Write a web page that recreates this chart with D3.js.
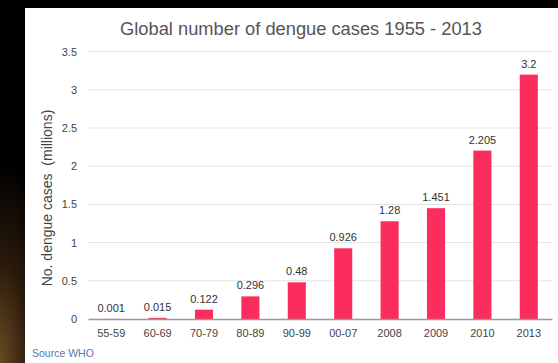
<!DOCTYPE html>
<html><head><meta charset="utf-8">
<script src="https://cdn.jsdelivr.net/npm/d3@7"></script>
<style>html,body{margin:0;padding:0;background:#000;overflow:hidden}</style>
</head><body>
<svg id="c" width="558" height="363"></svg>
<script>
const categories = ["55-59","60-69","70-79","80-89","90-99","00-07","2008","2009","2010","2013"];
const cases = [0.001,0.015,0.122,0.296,0.48,0.926,1.28,1.451,2.205,3.2];
const valueLabels = ["0.001","0.015","0.122","0.296","0.48","0.926","1.28","1.451","2.205","3.2"];
const yTicks = [0,0.5,1,1.5,2,2.5,3,3.5];
const yTickLabels = ["0","0.5","1","1.5","2","2.5","3","3.5"];
const title = "Global number of dengue cases 1955 - 2013";
const yTitle = "No. dengue cases  (millions)";
const source = "Source WHO";

const svg = d3.select("#c");
const defs = svg.append("defs");
const g1 = defs.append("radialGradient").attr("id","glow").attr("cx","0").attr("cy","1").attr("r","1");
g1.append("stop").attr("offset","0").attr("stop-color","#6b4a22");
g1.append("stop").attr("offset","0.5").attr("stop-color","#2a1a0c");
g1.append("stop").attr("offset","1").attr("stop-color","#000");
svg.append("rect").attr("width",558).attr("height",363).attr("fill","#000");
svg.append("rect").attr("x",0).attr("y",160).attr("width",60).attr("height",203).attr("fill","url(#glow)");
svg.append("rect").attr("x",25).attr("y",8).attr("width",533).attr("height",355).attr("fill","#fff");

const m = {left:88, right:552, top:51.7, bottom:319};
const x = d3.scaleBand().domain(categories).range([m.left,m.right]).paddingInner(0.61).paddingOuter(0.305);
const y = d3.scaleLinear().domain([0,3.5]).range([m.bottom,m.top]);

// gridlines
svg.append("g").selectAll("line").data(yTicks.filter(t=>t>0)).join("line")
  .attr("x1",m.left).attr("x2",m.right)
  .attr("y1",d=>y(d)).attr("y2",d=>y(d))
  .attr("stroke","#e4e4e4").attr("stroke-width",1);

// y axis labels
const yAxis = d3.axisLeft(y).tickValues(yTicks).tickFormat((d,i)=>yTickLabels[i]).tickSize(0).tickPadding(11);
const ya = svg.append("g").attr("transform",`translate(${m.left},0)`).call(yAxis);
ya.select(".domain").remove();
ya.selectAll("text").attr("font-family","Liberation Sans, Arial, sans-serif").attr("font-size",11).attr("fill","#444");

// bars
svg.append("g").selectAll("rect").data(cases).join("rect")
  .attr("x",(d,i)=>x(categories[i]))
  .attr("width",x.bandwidth())
  .attr("y",d=>y(d))
  .attr("height",d=>y(0)-y(d))
  .attr("fill","#fb2c5e");

// value labels
svg.append("g").selectAll("text").data(cases).join("text")
  .attr("x",(d,i)=>x(categories[i])+x.bandwidth()/2)
  .attr("y",d=>y(d)-7)
  .attr("text-anchor","middle")
  .attr("font-family","Liberation Sans, Arial, sans-serif").attr("font-size",11).attr("fill","#333")
  .text((d,i)=>valueLabels[i]);

// x axis
const xAxis = d3.axisBottom(x).tickSize(0).tickPadding(10);
const xa = svg.append("g").attr("transform",`translate(0,${m.bottom})`).call(xAxis);
xa.select(".domain").attr("stroke","#999").attr("stroke-width",1.5);
xa.selectAll("text").attr("font-family","Liberation Sans, Arial, sans-serif").attr("font-size",11).attr("fill","#444");

// title
svg.append("text").attr("x",301).attr("y",35).attr("text-anchor","middle")
  .attr("font-family","Liberation Sans, Arial, sans-serif").attr("font-size",18.3).attr("fill","#555").text(title);

// y title
svg.append("text").attr("transform","translate(52,198) rotate(-90)").attr("text-anchor","middle")
  .style("white-space","pre")
  .attr("font-family","Liberation Sans, Arial, sans-serif").attr("font-size",14).attr("fill","#444").text(yTitle);

// source
svg.append("text").attr("x",32).attr("y",357)
  .attr("font-family","Liberation Sans, Arial, sans-serif").attr("font-size",10.5).attr("fill","#5a76a8").text(source);
</script>
</body></html>
